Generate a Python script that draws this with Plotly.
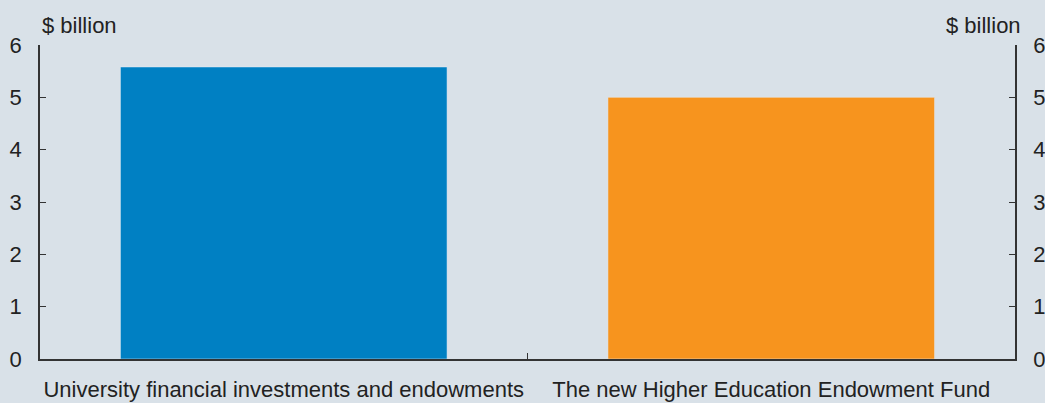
import plotly.graph_objects as go

categories = ["University financial investments and endowments", "The new Higher Education Endowment Fund"]
values = [5.58, 5.0]
colors = ["#0080c3", "#f7941e"]
y_ticks = [0, 1, 2, 3, 4, 5, 6]

BG = "#d9e1e8"
FONT = dict(family="Arial, Liberation Sans, sans-serif", size=22, color="#222222")

fig = go.Figure()
fig.add_trace(go.Bar(x=categories, y=values, marker=dict(color=colors, line=dict(width=0)),
                     width=0.67, showlegend=False, hoverinfo="skip"))
fig.add_trace(go.Bar(x=categories, y=values, yaxis="y2", marker=dict(color="rgba(0,0,0,0)"),
                     width=0.67, showlegend=False, hoverinfo="skip"))

axis_common = dict(range=[0, 6], tickvals=y_ticks, ticks="inside", ticklen=6, tickwidth=1,
                   tickcolor="#333333", showline=True, linecolor="#333333", linewidth=1.5,
                   showgrid=False, zeroline=False, tickfont=FONT, ticklabelstandoff=12,
                   automargin=False)

fig.update_layout(
    width=1045, height=403,
    margin=dict(l=40, r=30, t=45, b=44),
    paper_bgcolor=BG, plot_bgcolor=BG,
    font=FONT,
    barmode="overlay",
    xaxis=dict(type="category", tickson="boundaries", ticks="inside", ticklen=6,
               tickcolor="#333333", showline=True, linecolor="#333333", linewidth=1.5,
               showgrid=False, tickfont=FONT, ticklabelstandoff=10, range=[-0.5, 1.5],
               tickangle=0, automargin=False),
    yaxis=dict(side="left", **axis_common),
    yaxis2=dict(side="right", overlaying="y", **axis_common),
    annotations=[
        dict(text="$ billion", xref="paper", yref="paper", x=0.0, y=1.0, xanchor="left",
             yanchor="bottom", yshift=5, xshift=0, showarrow=False, font=FONT),
        dict(text="$ billion", xref="paper", yref="paper", x=1.0, y=1.0, xanchor="right",
             yanchor="bottom", yshift=5, xshift=8, showarrow=False, font=FONT),
    ],
)

fig.write_html("out.html")
